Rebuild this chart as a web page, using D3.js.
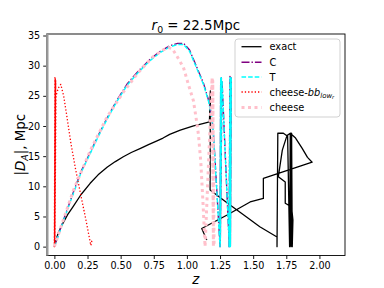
<!DOCTYPE html>
<html>
<head>
<meta charset="utf-8">
<script src="https://cdnjs.cloudflare.com/ajax/libs/d3/7.8.5/d3.min.js"></script>
<style>
  body { margin: 0; background: #fff; }
  text { font-family: "DejaVu Sans", sans-serif; }
</style>
</head>
<body>
<div id="chart"></div>
<script>
var width = 384;
var height = 288;

// exact
var exactZ = [0, 0.01, 0.03, 0.06, 0.1, 0.14, 0.2, 0.27, 0.33, 0.4, 0.46, 0.52, 0.58, 0.65, 0.71, 0.77, 0.82, 0.87,
  0.95, 1.05, 1.12, 1.17,
  1.177, 1.175, 1.3, 1.45, 1.55, 1.68, 1.68, 1.686, 1.728, 1.76, 1.775, 1.78, 1.785, 1.79, 1.795,
  1.80, 1.79, 1.742, 1.742, 1.69, 1.72, 1.755, 1.78, 1.82, 1.87, 1.91, 1.945,
  1.577, 1.577, 1.477, 1.3, 1.112, 1.15];
var exactV = [0, 1.0, 2.3, 3.7, 5.3, 6.6, 8.6, 10.5, 11.9, 13.2, 14.1, 14.9, 15.6, 16.3, 16.9, 17.5, 18.0, 18.6,
  19.3, 20.0, 20.4, 20.7,
  25.8, 9.4, 7.3, 4.9, 3.3, 1.6, 0, 18.8, 18.8, 18.3, 0, 18.8, 0, 18.8, 0,
  4.4, 6.6, 7.2, 10.7, 11.6, 16.0, 18.4, 18.8, 18.0, 16.3, 14.8, 14.0,
  11.3, 8.0, 7.4, 5.2, 3.0, 1.1];

// C
var cZ = [0, 0.02, 0.07, 0.143, 0.2, 0.27, 0.33, 0.395, 0.47, 0.55, 0.634, 0.72, 0.8, 0.87, 0.93, 0.975,
  1.02, 1.062, 1.1, 1.125, 1.162, 1.188, 1.2, 1.225, 1.25, 1.255, 1.25, 1.26, 1.252, 1.265,
  1.32, 1.325, 1.318, 1.33, 1.322, 1.335, 1.328, 1.333, 1.325];
var cV = [0, 1.3, 4.5, 9.0, 12.4, 15.6, 18.4, 21.2, 24.2, 27.0, 29.1, 31.0, 32.4, 33.3, 33.7, 33.7,
  32.6, 30.4, 28.4, 27.1, 24.4, 21.6, 18.8, 9.6, 0, 28, 0, 28, 0.5, 27.5,
  0, 28.2, 0, 28, 0, 27.8, 0, 28, 0];

// T
var tZ = [0, 0.02, 0.07, 0.143, 0.2, 0.27, 0.33, 0.395, 0.47, 0.55, 0.634, 0.72, 0.8, 0.87, 0.93, 0.975,
  1.02, 1.062, 1.1, 1.125, 1.162, 1.188, 1.2, 1.225, 1.25, 1.255, 1.25, 1.26, 1.252, 1.265,
  1.32, 1.325, 1.318, 1.33, 1.322, 1.335, 1.328, 1.333, 1.325];
var tV = [0, 1.2, 4.4, 8.8, 12.2, 15.4, 18.2, 21.0, 24.0, 26.8, 28.9, 30.8, 32.2, 33.1, 33.5, 33.5,
  32.4, 30.2, 28.2, 26.9, 24.2, 21.4, 18.6, 9.5, 0, 28, 0, 28, 0.5, 27.5,
  0, 28.2, 0, 28, 0, 27.8, 0, 28, 0];

// cheese-bb_low
var bbZ = [0, 0.004, 0, 0.007, 0.001, 0.009, 0.002, 0.006, 0.003, 0.01, 0.004, 0.012, 0.03, 0.048,
  0.07, 0.09, 0.124, 0.16, 0.2, 0.24, 0.275, 0.285];
var bbV = [0, 28, 0, 27.8, 0, 27.6, 0.3, 27.9, 0.2, 27.5, 0.5, 25, 26.3, 26.9,
  25.0, 22.2, 17.2, 12.8, 8.5, 4.2, 0.2, 1.2];

// cheese
var chZ = [0, 0.05, 0.143, 0.27, 0.395, 0.52, 0.634, 0.74, 0.82, 0.86, 0.89, 0.924, 0.974,
  1.011, 1.049, 1.069, 1.087, 1.105, 1.122, 1.137, 1.19, 1.2, 1.195, 1.205];
var chV = [0, 3.3, 9.3, 15.9, 21.4, 25.6, 28.9, 31.4, 32.6, 33.0, 32.8, 31.6, 29.7,
  26.9, 24.2, 21.4, 18.6, 14, 7, 0, 28, 0, 27.5, 0];

var xTicks = [0, 0.25, 0.5, 0.75, 1.0, 1.25, 1.5, 1.75, 2.0];
var yTicks = [0, 5, 10, 15, 20, 25, 30, 35];

var svg = d3.select("#chart").append("svg")
  .attr("width", width)
  .attr("height", height);

var mLeft = 46.7, mRight = 345, mTop = 34, mBottom = 255.5;

var x = d3.scaleLinear().domain([-0.058, 2.193]).range([mLeft, mRight]);
var y = d3.scaleLinear().domain([-1.47, 35.25]).range([mBottom, mTop]);

svg.append("defs").append("clipPath").attr("id", "clip")
  .append("rect").attr("x", mLeft).attr("y", mTop)
  .attr("width", mRight - mLeft).attr("height", mBottom - mTop);

var plot = svg.append("g").attr("clip-path", "url(#clip)");

function pairs(zs, vs) {
  return zs.map(function(z, i) { return [z, vs[i]]; });
}

var line = d3.line().x(function(d) { return x(d[0]); }).y(function(d) { return y(d[1]); });

var series = [
  {name: "exact", data: pairs(exactZ, exactV), color: "#000", w: 1.3, dash: null},
  {name: "C", data: pairs(cZ, cV), color: "purple", w: 1.4, dash: "8,2,1.4,2"},
  {name: "T", data: pairs(tZ, tV), color: "cyan", w: 1.4, dash: "4.6,2"},
  {name: "bb", data: pairs(bbZ, bbV), color: "red", w: 1.3, dash: "1.3,2"},
  {name: "cheese", data: pairs(chZ, chV), color: "pink", w: 3, dash: "3,3.5"}
];

series.forEach(function(s) {
  plot.append("path")
    .datum(s.data)
    .attr("d", line)
    .attr("fill", "none")
    .attr("stroke", s.color)
    .attr("stroke-width", s.w)
    .attr("stroke-dasharray", s.dash)
    .attr("stroke-linejoin", "round");
});

// axes
var xAxis = d3.axisBottom(x).tickValues(xTicks).tickFormat(d3.format(".2f")).tickSize(3.5).tickPadding(3);
var yAxis = d3.axisLeft(y).tickValues(yTicks).tickSize(3.5).tickPadding(3);

var gx = svg.append("g").attr("transform", "translate(0," + mBottom + ")").call(xAxis);
var gy = svg.append("g").attr("transform", "translate(" + mLeft + ",0)").call(yAxis);
[gx, gy].forEach(function(g) {
  g.select(".domain").remove();
  g.selectAll("text").attr("font-size", 9.6).attr("fill", "#000").attr("font-family", "DejaVu Sans");
  g.selectAll("line").attr("stroke", "#000").attr("stroke-width", 0.9);
});

// frame
svg.append("rect")
  .attr("x", mLeft).attr("y", mTop)
  .attr("width", mRight - mLeft).attr("height", mBottom - mTop)
  .attr("fill", "none").attr("stroke", "#000").attr("stroke-width", 0.9);
svg.append("line")
  .attr("x1", mLeft + 0.6).attr("x2", mLeft + 0.6)
  .attr("y1", mTop).attr("y2", mBottom)
  .attr("stroke", "#999").attr("stroke-width", 2.4);

// title
var title = svg.append("text")
  .attr("x", (mLeft + mRight) / 2).attr("y", 30)
  .attr("text-anchor", "middle").attr("font-size", 13.4);
title.append("tspan").attr("font-style", "italic").text("r");
title.append("tspan").attr("font-size", 9.4).attr("dy", 2.5).text("0");
title.append("tspan").attr("dy", -2.5).text(" = 22.5Mpc");

// x label
svg.append("text")
  .attr("x", (mLeft + mRight) / 2).attr("y", 284)
  .attr("text-anchor", "middle").attr("font-size", 13.4)
  .attr("font-style", "italic").text("z");

// y label
var yl = svg.append("text")
  .attr("transform", "translate(25," + (mTop + mBottom) / 2 + ") rotate(-90)")
  .attr("text-anchor", "middle").attr("font-size", 13.4);
yl.append("tspan").text("|");
yl.append("tspan").attr("font-style", "italic").text("D");
yl.append("tspan").attr("font-style", "italic").attr("font-size", 9.4).attr("dy", 2.5).text("A");
yl.append("tspan").attr("dy", -2.5).text("|, Mpc");

// legend
var legend = svg.append("g");
legend.append("rect")
  .attr("x", 235).attr("y", 39).attr("width", 105).attr("height", 78)
  .attr("rx", 3).attr("fill", "#fff").attr("fill-opacity", 0.8)
  .attr("stroke", "#ccc").attr("stroke-width", 0.9);

var legendRows = [46.7, 62.3, 77, 92, 107.5];
var legendLabels = ["exact", "C", "T", null, "cheese"];

series.forEach(function(s, i) {
  var yy = legendRows[i];
  legend.append("line")
    .attr("x1", 241.5).attr("x2", 261.5).attr("y1", yy).attr("y2", yy)
    .attr("stroke", s.color).attr("stroke-width", s.w)
    .attr("stroke-dasharray", s.dash);
  var t = legend.append("text").attr("x", 269.5).attr("y", yy + 3.5).attr("font-size", 9.8);
  if (legendLabels[i]) {
    t.text(legendLabels[i]);
  } else {
    t.append("tspan").text("cheese-");
    t.append("tspan").attr("font-style", "italic").text("bb");
    t.append("tspan").attr("font-style", "italic").attr("font-size", 6.9).attr("dy", 2).text("low");
    t.append("tspan").attr("font-style", "italic").attr("font-size", 5).attr("dy", 1.5).text("r");
  }
});
</script>
</body>
</html>
